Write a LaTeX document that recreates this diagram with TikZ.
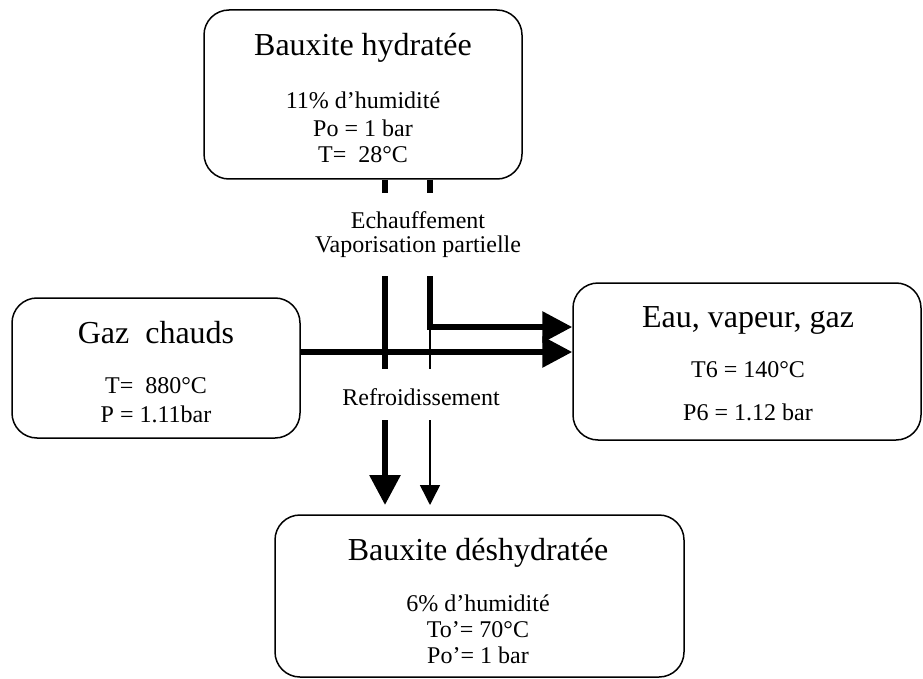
\documentclass[tikz,border=0pt]{standalone}
\usepackage{fontspec}
\setmainfont{Liberation Serif}
\usetikzlibrary{arrows.meta}
\begin{document}
\begin{tikzpicture}[x=1pt,y=-1pt,
  box/.style={draw,line width=1.5pt,rounded corners=25pt,inner sep=0pt},
  ttl/.style={font=\fontsize{32}{36}\selectfont,inner sep=0pt},
  txt/.style={font=\fontsize{24}{27}\selectfont,inner sep=0pt},
  flowthick/.style={line width=6pt,line cap=butt,line join=miter},
  flowthin/.style={line width=1.5pt},
  bighead/.style={-{Triangle[length=30pt,width=30pt]}},
  smallhead/.style={-{Triangle[length=20pt,width=20pt]}}]
\useasboundingbox (0,0) rectangle (923,679);
% boxes
\node[box,minimum width=318pt,minimum height=169pt] (hyd) at (363,94.5) {};
\node[box,minimum width=288pt,minimum height=140pt] (gaz) at (156,368) {};
\node[box,minimum width=348pt,minimum height=157pt] (eau) at (747,361.5) {};
\node[box,minimum width=409pt,minimum height=162pt] (des) at (479.5,596) {};
% texts
\node[ttl] (t1) at (363,48) {Bauxite hydratée};
\node[txt] (t1a) at (363,100) {11\% d’humidité};
\node[txt] (t1b) at (363,128) {Po = 1 bar};
\node[txt] (t1c) at (363,155) {T=\ \ 28°C};
\node[ttl] (t2) at (156,333) {Gaz\ \ chauds};
\node[txt] (t2a) at (156,386) {T=\ \ 880°C};
\node[txt] (t2b) at (156,414) {P = 1.11bar};
\node[ttl] (t3) at (748,320) {Eau, vapeur, gaz};
\node[txt] (t3a) at (748,370) {T6 = 140°C};
\node[txt] (t3b) at (748,412) {P6 = 1.12 bar};
\node[ttl] (t4) at (478,553) {Bauxite déshydratée};
\node[txt] (t4a) at (478,603) {6\% d’humidité};
\node[txt] (t4b) at (478,630) {To’= 70°C};
\node[txt] (t4c) at (478,655) {Po’= 1 bar};
\node[txt] (l1) at (418,220) {Echauffement};
\node[txt] (l2) at (418,247) {Vaporisation partielle};
\node[txt] (l3) at (421,397) {Refroidissement};
% coordinates
\coordinate (a0) at (385,193);
\coordinate (b0) at (430,193);
\coordinate (a1) at (385,276);
\coordinate (a2) at (385,369);
\coordinate (b1) at (430,276);
\coordinate (b2) at (430,327);
\coordinate (b3) at (430,369);
\coordinate (a3) at (385,420);
\coordinate (b4) at (430,420);
% stubs below top box
\draw[flowthick] (hyd.south -| a0) -- (a0);
\draw[flowthick] (hyd.south -| b0) -- (b0);
% middle section
\draw[flowthick] (a1) -- (a2);
\draw[flowthick,bighead] (b1) -- (b2) -- (eau.west |- b2);
\draw[flowthin] (b2) -- (b3);
\draw[flowthick,bighead] (gaz.east |- 0,352) -- (eau.west |- 0,352);
% to bottom box
\draw[flowthick,bighead] (a3) -- (385,505);
\draw[flowthin,smallhead] (b4) -- (430,505);
\end{tikzpicture}
\end{document}
